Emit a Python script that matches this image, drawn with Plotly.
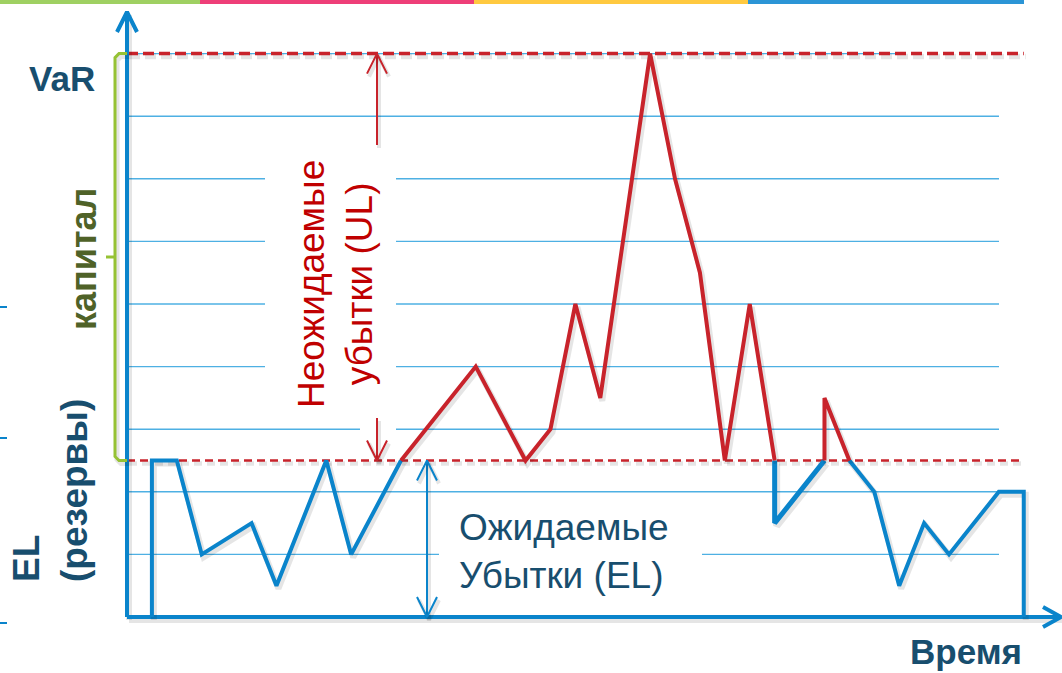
import plotly.graph_objects as go

# ---- data -------------------------------------------------------------
# time steps and loss levels (grid units) for the expected-loss path
blue_a_t = [1, 1, 2, 3, 5, 6, 8, 9, 11]
blue_a_v = [0, 2.5, 2.5, 1, 1.5, 0.5, 2.5, 1, 2.5]
blue_b_t = [26, 26, 28]
blue_b_v = [2.5, 1.5, 2.5]
blue_c_t = [29, 30, 31, 32, 33, 35, 36, 36]
blue_c_v = [2.5, 2, 0.5, 1.5, 1, 2, 2, 0]

# unexpected-loss path (above the EL level)
red_a_t = [11, 14, 16, 17, 18, 19, 21, 22, 23, 24, 25, 26]
red_a_v = [2.5, 4, 2.5, 3, 5, 3.5, 9, 7, 5.5, 2.5, 5, 2.5]
red_b_t = [28, 28, 29]
red_b_v = [2.5, 3.5, 2.5]

VAR_LEVEL = 9
EL_LEVEL = 2.5
T_END = 36
grid_levels = [1, 2, 3, 4, 5, 6, 7, 8, 9]

# ---- scale helpers (pixel -> data) ------------------------------------
W, H = 1062, 673
X0, SX = 127, 24.91
Y0, SY = 617, 62.6


def tx(px):
    return (px - X0) / SX


def vy(py):
    return (Y0 - py) / SY


BLUE = "#0A84CB"
RED = "#C8232B"
GRID = "#4EB0E3"
NAVY = "#184E6E"
GREEN = "#96C234"
DARKGREEN = "#4F6228"
FONT = "Liberation Sans, Arial, sans-serif"
SHADOW = "rgba(0,0,0,0.10)"

fig = go.Figure()


def line(xs, ys, color, width, dash=None, shadow=True):
    if shadow:
        fig.add_trace(go.Scatter(
            x=[x + 2 / SX for x in xs], y=[y - 3 / SY for y in ys],
            mode="lines", line=dict(color=SHADOW, width=width + 2, dash=dash),
            hoverinfo="skip", showlegend=False))
    fig.add_trace(go.Scatter(
        x=xs, y=ys, mode="lines",
        line=dict(color=color, width=width, dash=dash),
        hoverinfo="skip", showlegend=False))


# ---- gridlines (broken where labels sit) -------------------------------
grid_spans = {
    9: [(0, tx(898))],
    8: [(0, tx(999))],
    7: [(0, tx(265)), (tx(396), tx(999))],
    6: [(0, tx(265)), (tx(396), tx(999))],
    5: [(0, tx(265)), (tx(396), tx(999))],
    4: [(0, tx(265)), (tx(396), tx(999))],
    3: [(0, tx(360)), (tx(396), tx(999))],
    2: [(0, tx(999))],
    1: [(0, tx(439)), (tx(702), tx(999))],
}
shapes = []
for lvl in grid_levels:
    for a, b in grid_spans[lvl]:
        shapes.append(dict(type="line", xref="x", yref="y", x0=a, x1=b,
                           y0=lvl, y1=lvl, layer="below",
                           line=dict(color=GRID, width=1.4)))

# top colour stripe
stripe = [(0, 200, "#9FD062"), (200, 474, "#EE3E78"),
          (474, 748, "#FFC940"), (748, 1024, "#2B95D6")]
for a, b, c in stripe:
    shapes.append(dict(type="line", xref="paper", yref="paper",
                       x0=a / W, x1=b / W, y0=1 - 2 / H, y1=1 - 2 / H,
                       line=dict(color=c, width=4)))

# small ticks at the left edge
for py in [307, 438, 623]:
    shapes.append(dict(type="line", xref="paper", yref="paper",
                       x0=0, x1=7 / W, y0=1 - py / H, y1=1 - py / H,
                       line=dict(color=BLUE, width=2)))

# ---- VaR / EL dashed levels --------------------------------------------
line([0, T_END], [VAR_LEVEL, VAR_LEVEL], RED, 3.5, dash="11px,5px")
line([0, T_END], [EL_LEVEL, EL_LEVEL], RED, 2.5, dash="8px,5px")

# ---- axes ---------------------------------------------------------------
ax_top = vy(12)
ax_right = tx(1061)
line([0, 0], [0, ax_top], BLUE, 4)
line([0, ax_right], [0, 0], BLUE, 4)
ahx, ahy = 10 / SX, 20 / SY
line([-ahx, 0, ahx], [ax_top - ahy, ax_top, ax_top - ahy], BLUE, 4, shadow=False)
bx, by = 18 / SX, 10 / SY
line([ax_right - bx, ax_right, ax_right - bx], [by, 0, -by], BLUE, 4, shadow=False)

# ---- series -------------------------------------------------------------
line(blue_a_t, blue_a_v, BLUE, 4)
line(blue_b_t, blue_b_v, BLUE, 5)
line(blue_c_t, blue_c_v, BLUE, 4)
line(red_a_t, red_a_v, RED, 4)
line(red_b_t, red_b_v, RED, 4)

# ---- UL double arrow (red) ----------------------------------------------
ul_t = tx(377)
hx, hy = 10 / SX, 20 / SY
line([ul_t, ul_t], [VAR_LEVEL, vy(145)], RED, 2)
line([ul_t, ul_t], [vy(418), EL_LEVEL], RED, 2)
line([ul_t - hx, ul_t, ul_t + hx], [VAR_LEVEL - hy, VAR_LEVEL, VAR_LEVEL - hy], RED, 2)
line([ul_t - hx, ul_t, ul_t + hx], [EL_LEVEL + hy, EL_LEVEL, EL_LEVEL + hy], RED, 2)

# ---- EL double arrow (blue) ---------------------------------------------
el_t = tx(427)
line([el_t, el_t], [EL_LEVEL, 0], BLUE, 2)
line([el_t - hx, el_t, el_t + hx], [EL_LEVEL - hy, EL_LEVEL, EL_LEVEL - hy], BLUE, 2)
line([el_t - hx, el_t, el_t + hx], [hy, 0, hy], BLUE, 2)

# ---- capital bracket (green) --------------------------------------------
bk = tx(115)
r_t, r_v = 4 / SX, 4 / SY
line([0, bk + r_t, bk, bk, bk + r_t, 0],
     [VAR_LEVEL, VAR_LEVEL, VAR_LEVEL - r_v, EL_LEVEL + r_v, EL_LEVEL, EL_LEVEL],
     GREEN, 3)
line([tx(106), bk], [vy(257), vy(257)], GREEN, 3, shadow=False)

# ---- labels ---------------------------------------------------------------
ann = []


def label(px, py, text, size, color, bold=False, angle=0, xanchor="center",
          align="center"):
    ann.append(dict(x=tx(px), y=vy(py), xref="x", yref="y", text=text,
                    showarrow=False, textangle=angle, xanchor=xanchor,
                    yanchor="middle", align=align,
                    font=dict(family=FONT, size=size, color=color,
                              weight="bold" if bold else "normal")))


label(62, 78, "VaR", 35, NAVY, bold=True)
label(83, 259, "капитал", 36, DARKGREEN, bold=True, angle=-90)
label(50, 491, "EL<br>(резервы)", 37, NAVY, bold=True, angle=-90, align="left")
label(335, 284, "Неожидаемые<br>убытки (UL)", 37, "#C00000", angle=-90)
label(457, 551, "Ожидаемые<br>Убытки (EL)", 37, NAVY, xanchor="left", align="left")
label(966, 651, "Время", 35, NAVY, bold=True)

fig.update_layout(
    width=W, height=H,
    margin=dict(l=0, r=0, t=0, b=0),
    paper_bgcolor="white", plot_bgcolor="white",
    xaxis=dict(range=[tx(0), tx(W)], visible=False, fixedrange=True),
    yaxis=dict(range=[vy(H), vy(0)], visible=False, fixedrange=True),
    shapes=shapes, annotations=ann, showlegend=False,
)

fig.write_html("out.html")
